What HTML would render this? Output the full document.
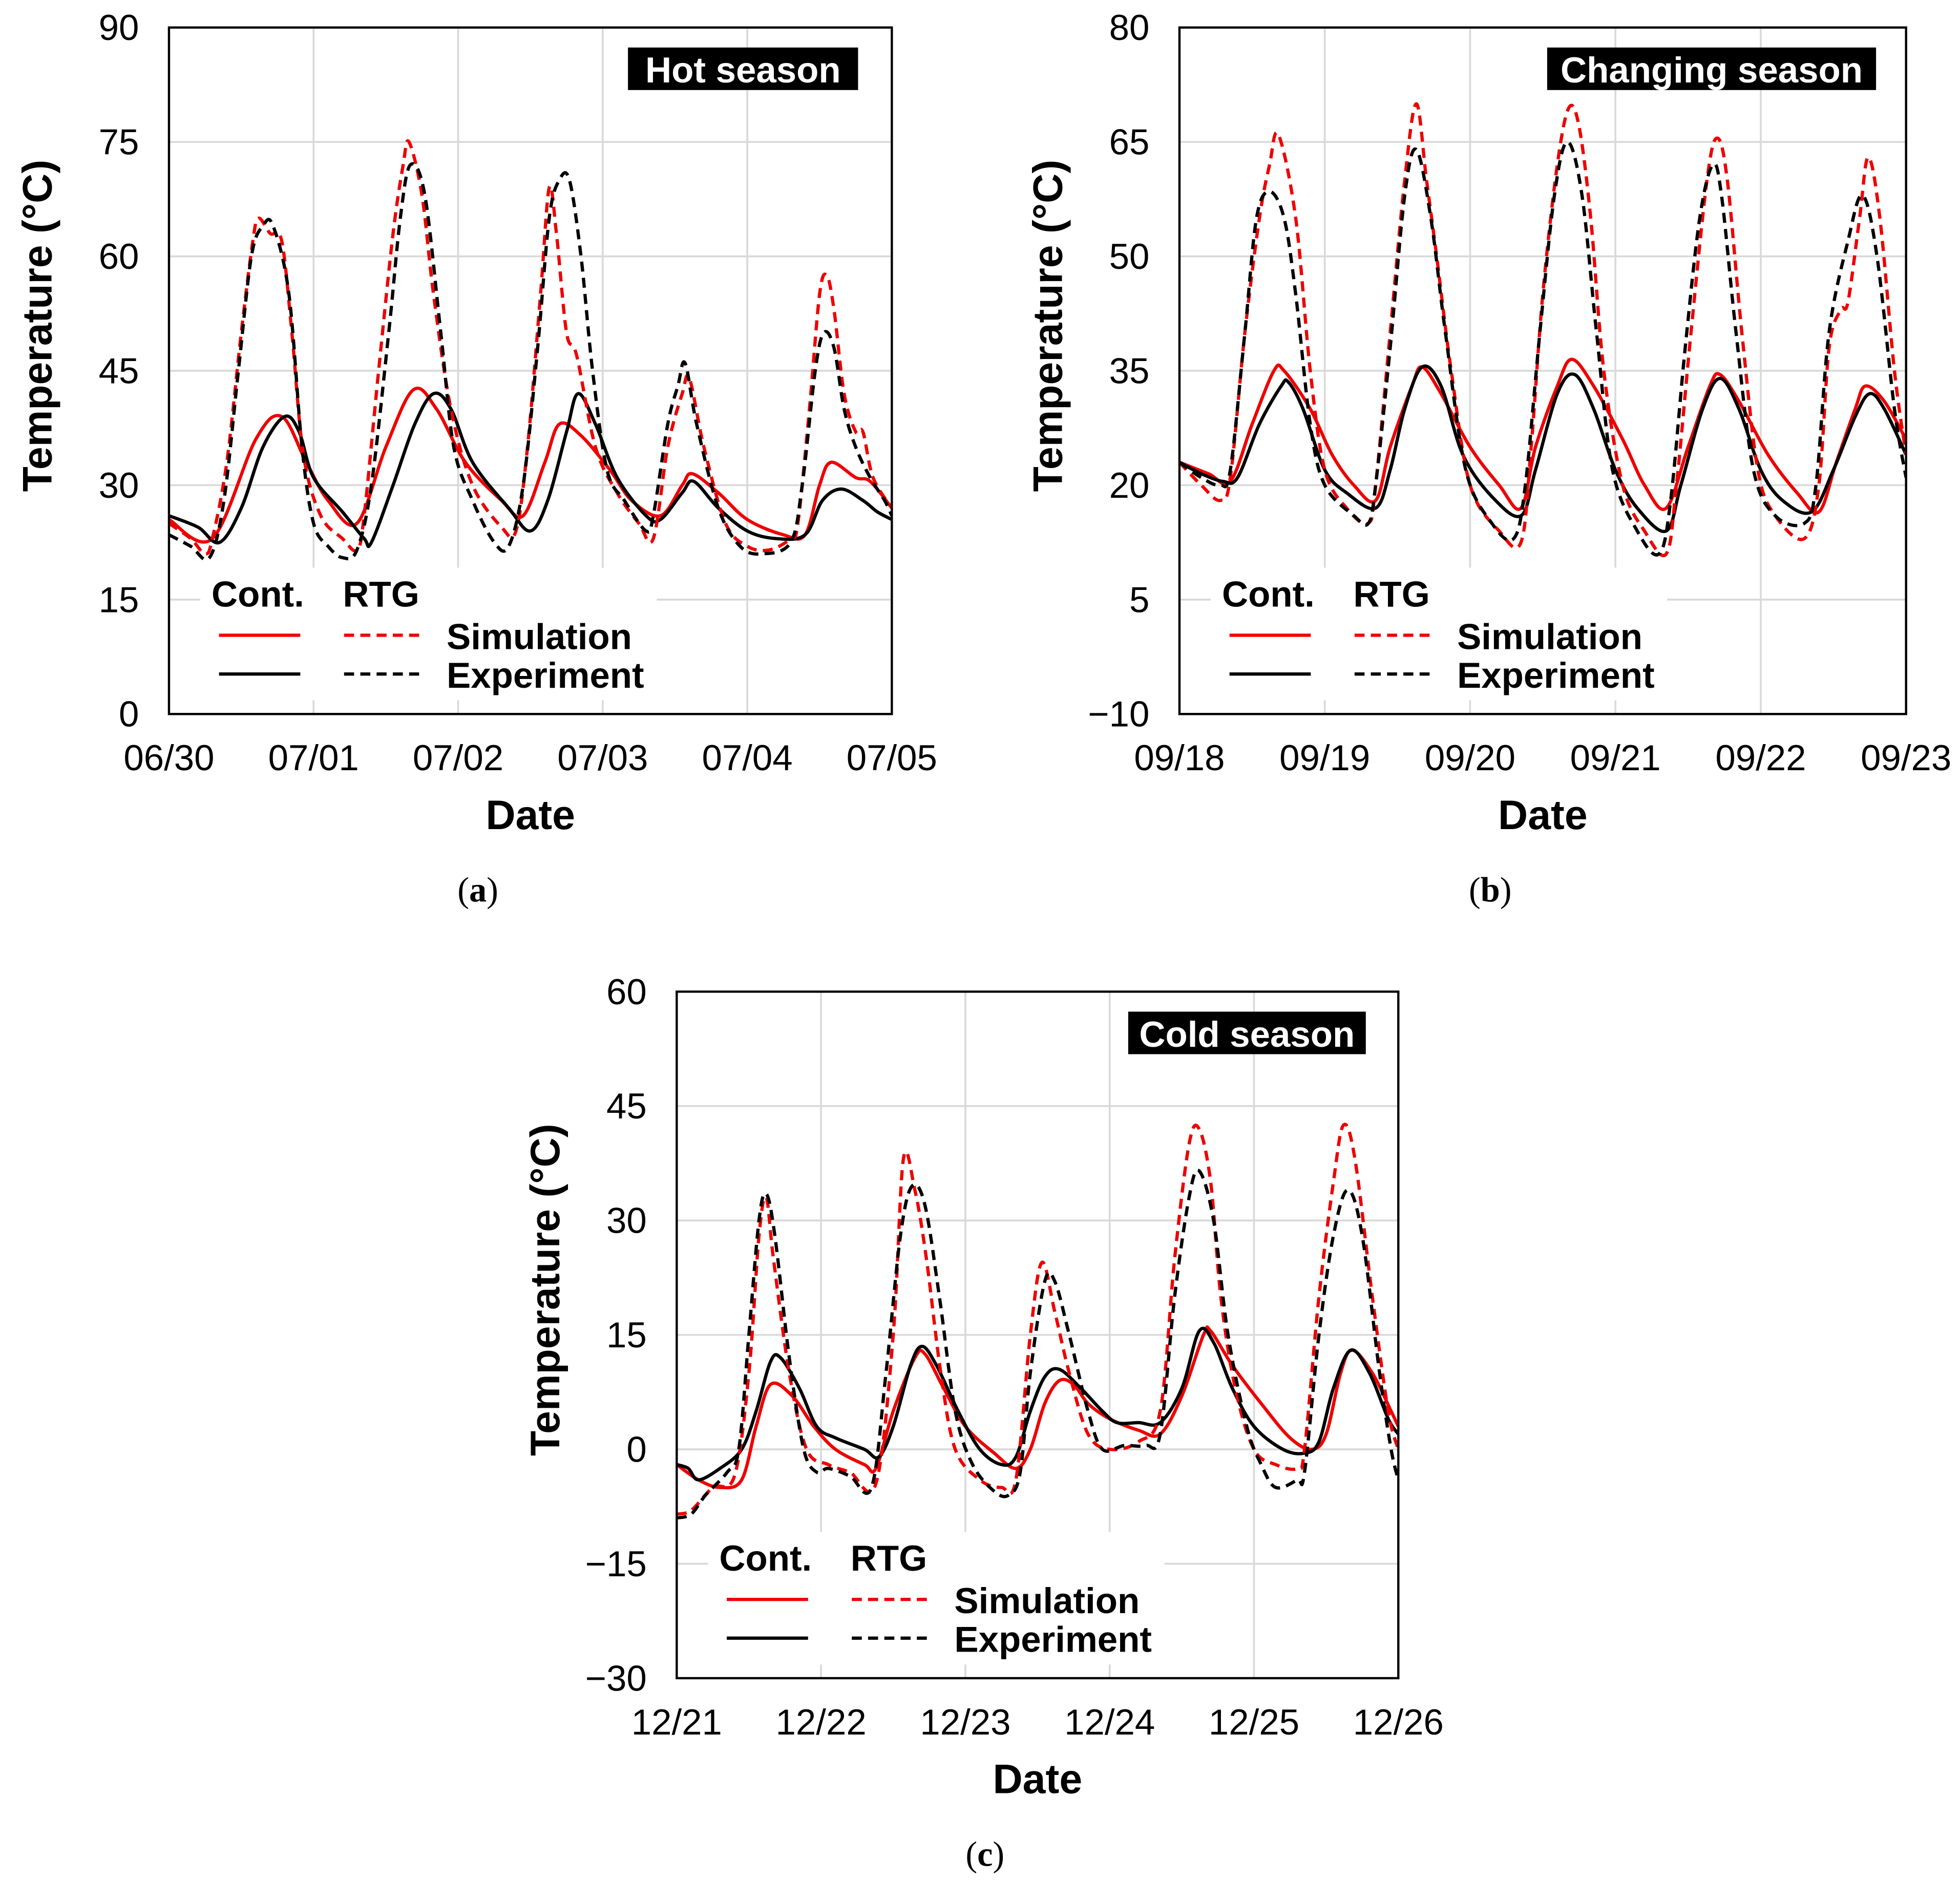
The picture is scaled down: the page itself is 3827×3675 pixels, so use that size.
<!DOCTYPE html>
<html><head><meta charset="utf-8"><style>
html,body{margin:0;padding:0;background:#fff;}
svg{display:block;}
text{font-family:"Liberation Sans",Arial,sans-serif;}
</style></head><body>
<svg id="fig" width="3827" height="3675" viewBox="0 0 1567 1505" xmlns="http://www.w3.org/2000/svg"></svg>
<script>
// ---------- Panel (a) Hot season data ----------
const aYTicks=[0,15,30,45,60,75,90];
const aXTicks=["06/30","07/01","07/02","07/03","07/04","07/05"];
const aContSimT=[0,0.3,0.6,0.78,0.95,1.1,1.3,1.5,1.69,1.85,2.05,2.3,2.45,2.6,2.7,2.85,3.05,3.2,3.4,3.55,3.62,3.8,4.0,4.25,4.4,4.5,4.58,4.75,4.85,5.0];
const aContSimV=[25.5,23,36,39,33,28,25,35,42.5,40,33,28,26,33,38,36.5,32,28,26,30,31.5,29,25.5,23.5,23.5,30,33,31,30.5,27];
const aContExpT=[0,0.2,0.35,0.5,0.65,0.8,0.9,1.0,1.2,1.35,1.4,1.55,1.7,1.83,1.95,2.1,2.35,2.5,2.62,2.75,2.83,2.95,3.1,3.3,3.4,3.55,3.63,3.8,4.0,4.2,4.4,4.52,4.65,4.8,4.9,5.0];
const aContExpV=[26,24.5,22.5,27,35,39,37,31,26.5,23,22.5,30,38,42,40,33,27,24,28,37,42,38,31,26,25.5,29,30.5,27,24,23,23.5,28,29.5,28,26.5,25.5];
const aRtgSimT=[0,0.15,0.25,0.3,0.4,0.5,0.58,0.62,0.7,0.78,0.85,0.93,1.05,1.2,1.3,1.35,1.45,1.55,1.62,1.66,1.75,1.83,1.95,2.1,2.3,2.4,2.48,2.57,2.63,2.68,2.75,2.82,2.95,3.1,3.25,3.35,3.45,3.55,3.6,3.7,3.85,4.0,4.15,4.3,4.35,4.43,4.5,4.55,4.6,4.67,4.75,4.8,4.87,5.0];
const aRtgSimV=[25,23,21,23,33,50,62,65,63,62,50,34,26,23,21.5,26,45,63,72,75,68,55,40,30,24.5,24,35,55,69,63,50,47,35,29,25,23,35,42,44,35,25,22,21.5,23,25,40,55,57.5,53,42,37,37,31,27];
const aRtgExpT=[0,0.15,0.28,0.38,0.48,0.57,0.65,0.72,0.83,0.92,1.0,1.1,1.2,1.3,1.4,1.52,1.6,1.67,1.77,1.88,1.97,2.1,2.25,2.35,2.45,2.55,2.63,2.7,2.77,2.85,2.93,3.03,3.15,3.3,3.35,3.45,3.52,3.57,3.65,3.8,3.95,4.1,4.3,4.38,4.47,4.53,4.6,4.67,4.75,4.85,4.95,5.0];
const aRtgExpV=[23.5,22,20.5,28,45,60,64,64,55,35,25,22,20.5,21.5,30,50,65,72,68,50,35,28,22.5,22,30,48,65,70,70,60,45,32,28,24,26,38,43,46,38,27,22,21,22.5,30,45,50,48,40,35,31,28,26];
// ---------- Panel (b) Changing season data ----------
const bYTicks=[-10,5,20,35,50,65,80];
const bXTicks=["09/18","09/19","09/20","09/21","09/22","09/23"];
const bContSimT=[0,0.2,0.35,0.5,0.65,0.72,0.9,1.05,1.2,1.35,1.45,1.6,1.67,1.8,2.0,2.2,2.35,2.45,2.6,2.7,2.85,3.05,3.2,3.35,3.5,3.65,3.72,3.85,4.05,4.25,4.4,4.52,4.65,4.72,4.85,5.0];
const bContSimV=[23,21.5,20.5,28,35,35,30,24,20,18,25,33,35.5,32,25,20,17,25,33,36.5,33,26,20,17,25,33,34.5,31,24,19,16.5,23,30,33,31,26];
const bContExpT=[0,0.15,0.3,0.4,0.55,0.7,0.75,0.85,1.0,1.15,1.35,1.45,1.55,1.67,1.8,1.95,2.15,2.35,2.45,2.6,2.72,2.85,3.0,3.15,3.35,3.45,3.6,3.72,3.85,4.0,4.15,4.35,4.5,4.65,4.75,4.85,5.0];
const bContExpV=[23,21.5,20.5,21,28,33,33.5,30,22,19,17,22,30,35.5,33,24,18.5,16,22,32,34.5,30,22,17,14,20,30,34,30,22,18,16.5,22,29,32,30,24];
const bRtgSimT=[0,0.15,0.28,0.35,0.45,0.55,0.62,0.68,0.8,0.9,1.0,1.15,1.3,1.35,1.45,1.55,1.63,1.7,1.77,1.87,2.0,2.2,2.35,2.42,2.5,2.6,2.68,2.75,2.83,2.92,3.05,3.2,3.35,3.42,3.52,3.63,3.7,3.77,3.87,3.98,4.1,4.3,4.4,4.47,4.55,4.6,4.68,4.74,4.82,4.92,5.0];
const bRtgSimV=[23,20,18,21,40,55,62,66,55,35,22,17,15,20,40,60,70,60,50,35,20,14,12.5,25,45,62,69.5,67,55,35,20,14,11,20,40,60,65.5,60,40,22,16,13,20,38,43,44,55,63,55,35,24];
const bRtgExpT=[0,0.15,0.28,0.35,0.45,0.53,0.62,0.72,0.8,0.9,1.0,1.2,1.3,1.35,1.45,1.55,1.63,1.73,1.83,1.97,2.15,2.3,2.38,2.48,2.58,2.67,2.77,2.87,2.98,3.15,3.3,3.38,3.48,3.58,3.67,3.73,3.83,3.95,4.1,4.3,4.38,4.47,4.6,4.7,4.8,4.92,5.0];
const bRtgExpV=[23,21,20,22,40,55,58.5,55,45,28,20,16,15,20,38,58,64,55,40,22,15,13,20,40,58,65,58,40,22,14,11,18,38,55,62,58,40,22,16,15,20,40,52,58,50,30,21];
// ---------- Panel (c) Cold season data ----------
const cYTicks=[-30,-15,0,15,30,45,60];
const cXTicks=["12/21","12/22","12/23","12/24","12/25","12/26"];
const cContSimT=[0,0.15,0.3,0.45,0.55,0.65,0.8,0.95,1.1,1.3,1.38,1.5,1.65,1.72,1.85,2.0,2.2,2.35,2.45,2.55,2.65,2.75,2.85,3.0,3.2,3.35,3.5,3.65,3.7,3.85,4.05,4.25,4.4,4.5,4.6,4.68,4.82,4.95,5.0];
const cContSimV=[-2,-4,-5,-4,3,8.5,7,3,0,-2,-2.5,5,12,12.5,8,3,-0.5,-2.5,0,6,9,8.5,6,4,2.5,2,7,15,15.5,11,6,1.5,0,2,10,13,10,5,3];
const cContExpT=[0,0.08,0.15,0.3,0.45,0.55,0.65,0.72,0.85,0.97,1.1,1.3,1.4,1.5,1.62,1.7,1.8,1.95,2.1,2.25,2.35,2.45,2.55,2.65,2.8,2.95,3.05,3.2,3.35,3.5,3.62,3.72,3.85,4.0,4.2,4.35,4.45,4.55,4.67,4.8,4.93,5.0];
const cContExpV=[-2,-2.5,-4,-2.5,0,5,11.5,12,8,3,1.5,0,-1,3,11,13.5,11,5,0,-2,-1,5,9.5,10.5,8,5,3.5,3.5,3.5,8,15.5,14,8,3,0,-0.5,1,8,13,10,4,2];
const cRtgSimT=[0,0.1,0.25,0.4,0.5,0.57,0.62,0.67,0.78,0.9,1.05,1.2,1.38,1.5,1.57,1.65,1.73,1.83,1.93,2.1,2.25,2.35,2.45,2.53,2.62,2.72,2.85,3.0,3.2,3.35,3.45,3.55,3.62,3.7,3.77,3.87,4.0,4.15,4.3,4.35,4.45,4.55,4.62,4.7,4.82,4.93,5.0];
const cRtgSimV=[-8.5,-8,-5,-3.5,10,28,33,25,10,0,-2,-3,-4.5,15,38,34,25,10,0,-4,-5,-4,15,24.5,18,10,2,0,1,5,25,40,42,35,20,8,0,-2,-2.5,0,20,35,42.5,38,20,5,0];
const cRtgExpT=[0,0.1,0.2,0.35,0.43,0.5,0.57,0.62,0.68,0.78,0.88,0.97,1.05,1.2,1.35,1.45,1.55,1.63,1.72,1.82,1.93,2.05,2.2,2.3,2.38,2.45,2.55,2.62,2.72,2.85,2.95,3.1,3.25,3.35,3.45,3.55,3.62,3.72,3.82,3.95,4.05,4.15,4.3,4.35,4.45,4.55,4.65,4.75,4.87,4.95,5.0];
const cRtgExpV=[-9,-8.5,-6,-3,0,15,30,33.5,28,12,0,-3,-2.5,-3.5,-5,10,28,34.5,32,20,5,-2,-5.5,-6,-3,10,22,22,15,5,0,0.5,0.5,2,20,33,36.5,30,15,3,-2,-5,-4,-3,15,28,34,28,10,0,-4];

const NS="http://www.w3.org/2000/svg";
const svg=document.getElementById('fig');
function mk(tag,attrs,parent){const e=document.createElementNS(NS,tag);for(const k in attrs)e.setAttribute(k,attrs[k]);(parent||svg).appendChild(e);return e;}
function smoothPath(pts){
  let d="M"+pts[0][0].toFixed(2)+","+pts[0][1].toFixed(2);
  for(let i=0;i<pts.length-1;i++){
    const p0=pts[Math.max(0,i-1)],p1=pts[i],p2=pts[i+1],p3=pts[Math.min(pts.length-1,i+2)];
    const c1x=p1[0]+(p2[0]-p0[0])/6,c1y=p1[1]+(p2[1]-p0[1])/6;
    const c2x=p2[0]-(p3[0]-p1[0])/6,c2y=p2[1]-(p3[1]-p1[1])/6;
    d+=" C"+c1x.toFixed(2)+","+c1y.toFixed(2)+" "+c2x.toFixed(2)+","+c2y.toFixed(2)+" "+p2[0].toFixed(2)+","+p2[1].toFixed(2);
  }
  return d;
}
function panel(cfg){
  const {id,x0,x1,y0,y1,yTicks,xTicks,title,titleX,titleW,label,series}=cfg;
  const g=mk('g',{});
  
  
  const ymin=yTicks[0],ymax=yTicks[yTicks.length-1];
  const xs=t=>x0+(x1-x0)*t/5;
  const ys=v=>y1-(y1-y0)*(v-ymin)/(ymax-ymin);
  xTicks.forEach((lab,i)=>{
    const gl=mk('line',{x1:xs(i),x2:xs(i),y1:y0,y2:y1,stroke:'#d9d9d9','stroke-width':1.5},g);
    
    
    const t=mk('text',{x:xs(i),y:y1+45,'font-size':29,'text-anchor':'middle',fill:'#000'},g);
    
    
    t.textContent=lab;
  });
  yTicks.forEach(v=>{
    const gl=mk('line',{x1:x0,x2:x1,y1:ys(v),y2:ys(v),stroke:'#d9d9d9','stroke-width':1.5},g);
    
    
    const t=mk('text',{x:x0-24,y:ys(v)+10,'font-size':29,'text-anchor':'end',fill:'#000'},g);
    
    
    t.textContent=(v<0?"\u2212"+Math.abs(v):v);
  });
  const lg=mk('g',{},g);
  
  
  const lx=x0+25, ly=y1-117;
  mk('rect',{x:lx,y:ly,width:365,height:106,fill:'#fff'},lg);
  const cp=mk('clipPath',{id:'clip'+id},g);
  mk('rect',{x:x0,y:y0,width:x1-x0,height:y1-y0},cp);
  series.forEach(s=>{
    const pts=s.t.map((t,i)=>[xs(t),ys(s.v[i])]);
    const p=mk('path',{d:smoothPath(pts),fill:'none',stroke:s.color,'stroke-width':2.6,'stroke-dasharray':s.dash?'8,5':'none','clip-path':'url(#clip'+id+')','stroke-linejoin':'round'},g);
    
    
  });
  const fr=mk('rect',{x:x0,y:y0,width:x1-x0,height:y1-y0,fill:'none',stroke:'#000','stroke-width':1.8},g);
  
  
  const lt=(txt,x,y,nm)=>{const t=mk('text',{x:x,y:y,'font-size':29,'font-weight':'bold',fill:'#000'},lg);t.textContent=txt;};
  lt("Cont.",lx+9,ly+31,'legend-header-cont');
  lt("RTG",lx+114,ly+31,'legend-header-rtg');
  mk('line',{x1:lx+15,x2:lx+80,y1:ly+54,y2:ly+54,stroke:'#e00','stroke-width':2.6},lg);
  mk('line',{x1:lx+115,x2:lx+180,y1:ly+54,y2:ly+54,stroke:'#e00','stroke-width':2.6,'stroke-dasharray':'8,5'},lg);
  mk('line',{x1:lx+15,x2:lx+80,y1:ly+85,y2:ly+85,stroke:'#000','stroke-width':2.6},lg);
  mk('line',{x1:lx+115,x2:lx+180,y1:ly+85,y2:ly+85,stroke:'#000','stroke-width':2.6,'stroke-dasharray':'8,5'},lg);
  lt("Simulation",lx+197,ly+65,'legend-simulation');
  lt("Experiment",lx+197,ly+96,'legend-experiment');
  const tb=mk('g',{},g);
  
  
  mk('rect',{x:titleX,y:y0+16,width:titleW,height:34,fill:'#000'},tb);
  const tt=mk('text',{x:titleX+titleW/2,y:y0+44,'font-size':29,'font-weight':'bold','text-anchor':'middle',fill:'#fff'},tb);
  tt.textContent=title;
  const yt=mk('text',{x:0,y:0,'font-size':33,'font-weight':'bold','text-anchor':'middle',transform:'translate('+(x0-94)+','+((y0+y1)/2-36)+') rotate(-90)'},g);
  
  
  yt.textContent="Temperature (\u00B0C)";
  const xt=mk('text',{x:(x0+x1)/2,y:y1+92,'font-size':33,'font-weight':'bold','text-anchor':'middle'},g);
  
  
  xt.textContent="Date";
  const pl=mk('text',{x:(x0+x1)/2-42,y:y1+150,'font-size':28,'text-anchor':'middle'},g);
  
  
  pl.style.fontFamily='"Liberation Serif",serif';
  pl.innerHTML='(<tspan font-weight="bold">'+label+'</tspan>)';
}
function ser(name,t,v,color,dash){return {name,t,v,color,dash};}
panel({id:'a',x0:135,x1:713,y0:22,y1:571,yTicks:aYTicks,xTicks:aXTicks,title:"Hot season",titleX:502,titleW:184,label:'a',
  series:[ser('cont-simulation-line',aContSimT,aContSimV,'#e00',false),ser('cont-experiment-line',aContExpT,aContExpV,'#000',false),
          ser('rtg-simulation-line',aRtgSimT,aRtgSimV,'#e00',true),ser('rtg-experiment-line',aRtgExpT,aRtgExpV,'#000',true)]});
panel({id:'b',x0:943,x1:1524,y0:22,y1:571,yTicks:bYTicks,xTicks:bXTicks,title:"Changing season",titleX:1237,titleW:263,label:'b',
  series:[ser('cont-simulation-line',bContSimT,bContSimV,'#e00',false),ser('cont-experiment-line',bContExpT,bContExpV,'#000',false),
          ser('rtg-simulation-line',bRtgSimT,bRtgSimV,'#e00',true),ser('rtg-experiment-line',bRtgExpT,bRtgExpV,'#000',true)]});
panel({id:'c',x0:541,x1:1118,y0:793,y1:1342,yTicks:cYTicks,xTicks:cXTicks,title:"Cold season",titleX:902,titleW:190,label:'c',
  series:[ser('cont-simulation-line',cContSimT,cContSimV,'#e00',false),ser('cont-experiment-line',cContExpT,cContExpV,'#000',false),
          ser('rtg-simulation-line',cRtgSimT,cRtgSimV,'#e00',true),ser('rtg-experiment-line',cRtgExpT,cRtgExpV,'#000',true)]});
</script>
</body></html>
